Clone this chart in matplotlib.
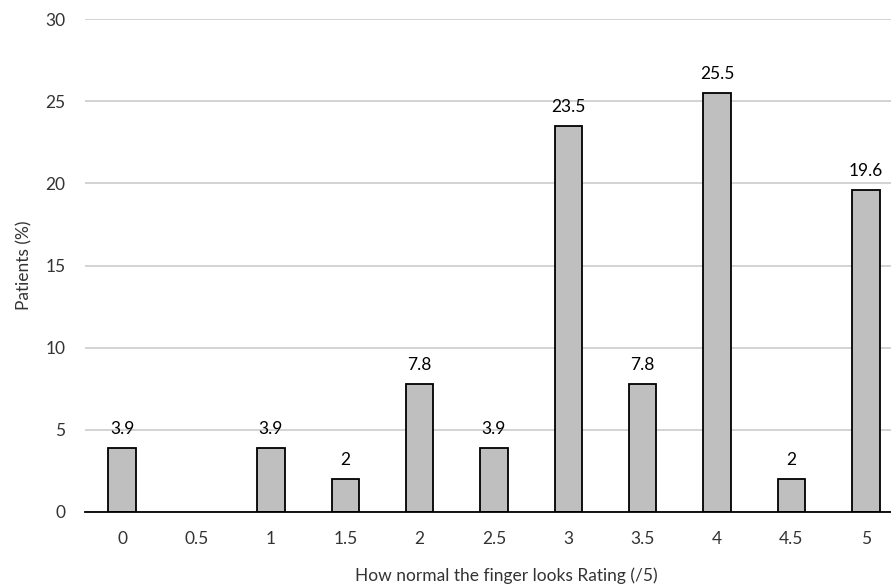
import matplotlib
matplotlib.use('Agg')
import matplotlib.pyplot as plt

# rating categories and share of patients (%) for each
ratings = ['0', '0.5', '1', '1.5', '2', '2.5', '3', '3.5', '4', '4.5', '5']
patients = [3.9, None, 3.9, 2, 7.8, 3.9, 23.5, 7.8, 25.5, 2, 19.6]
y_ticks = [0, 5, 10, 15, 20, 25, 30]

plt.rcParams['font.family'] = ['Lato', 'DejaVu Sans']

fig = plt.figure(figsize=(8.91, 5.88), dpi=100)
ax = fig.add_axes([85 / 891, 76 / 588, 818 / 891, 493 / 588])

xs = [i for i, v in enumerate(patients) if v is not None]
vals = [v for v in patients if v is not None]
ax.bar(xs, vals, width=0.37, color='#bfbfbf', edgecolor='black', linewidth=1.3, zorder=3)

for x, v in zip(xs, vals):
    ax.annotate(f'{v:g}', (x, v), xytext=(0, 8), textcoords='offset points',
                ha='center', va='bottom', fontsize=12.5, color='black')

ax.set_xlim(-0.5, len(ratings) - 0.5)
ax.set_ylim(0, 30)
ax.set_xticks(range(len(ratings)))
ax.set_xticklabels(ratings)
ax.set_yticks(y_ticks)
ax.tick_params(axis='both', length=0, labelsize=12.5, colors='#333333')
ax.tick_params(axis='x', pad=14)
ax.tick_params(axis='y', pad=14)
ax.yaxis.grid(True, color='#d0d0d0', linewidth=1.3, zorder=0)
ax.set_axisbelow(True)

for side in ['top', 'right', 'left']:
    ax.spines[side].set_visible(False)
ax.spines['bottom'].set_linewidth(1.3)
ax.spines['bottom'].set_color('black')
ax.spines['bottom'].set_zorder(4)

ax.set_ylabel('Patients (%)', fontsize=12.5, color='#333333', labelpad=9)
fig.text(506 / 891, 12 / 588, 'How normal the finger looks Rating (/5)',
         ha='center', va='center', fontsize=12.5, color='#333333')

fig.savefig('out.png', dpi=100)
